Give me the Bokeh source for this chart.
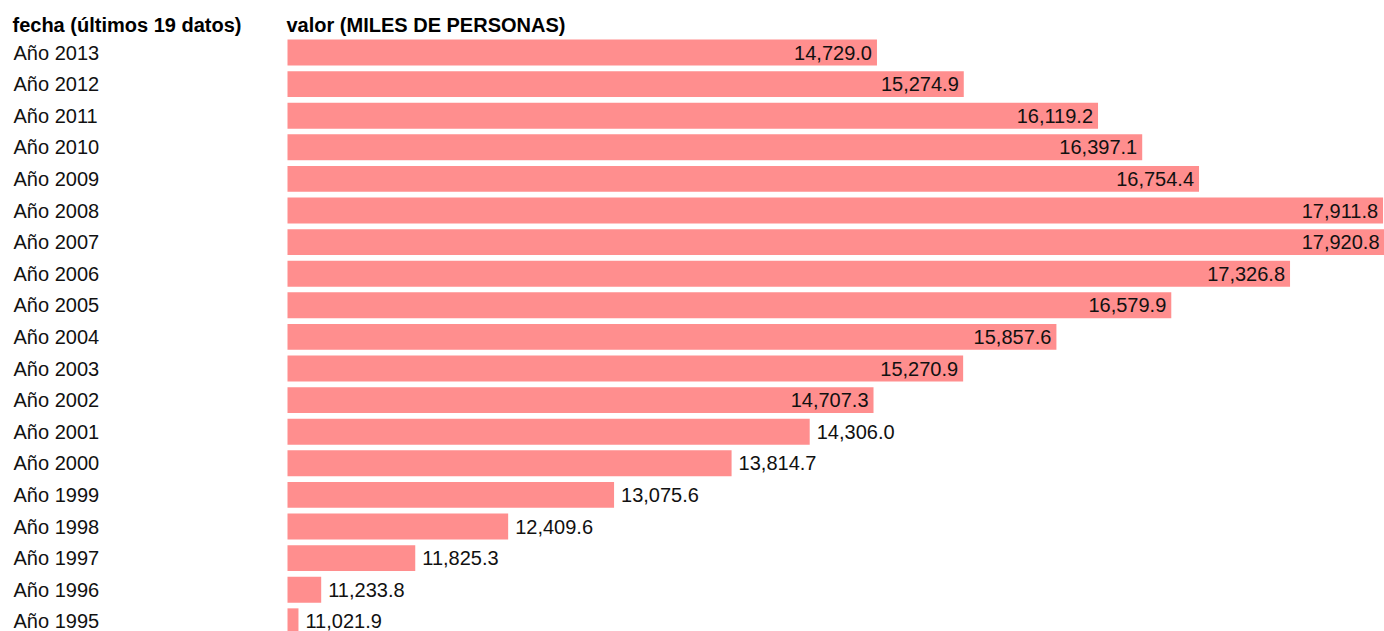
import numpy as np
from bokeh.plotting import figure
from bokeh.models import ColumnDataSource, Range1d
from bokeh.core.properties import value
from bokeh.embed import file_html
from bokeh.resources import INLINE

# ---- data ----
categories = ["Año 2013", "Año 2012", "Año 2011", "Año 2010", "Año 2009", "Año 2008",
              "Año 2007", "Año 2006", "Año 2005", "Año 2004", "Año 2003", "Año 2002",
              "Año 2001", "Año 2000", "Año 1999", "Año 1998", "Año 1997", "Año 1996",
              "Año 1995"]
values = [14729.0, 15274.9, 16119.2, 16397.1, 16754.4, 17911.8, 17920.8, 17326.8,
          16579.9, 15857.6, 15270.9, 14707.3, 14306.0, 13814.7, 13075.6, 12409.6,
          11825.3, 11233.8, 11021.9]
header_category = "fecha (últimos 19 datos)"
header_value = "valor (MILES DE PERSONAS)"

# ---- layout constants ----
W, H = 1384, 631
LEFT_PX = 287          # where the bars start
ROW_PX = 31.6          # row pitch
FIRST_ROW_PX = 52      # centre of first row
FONT = "Liberation Sans"
FS = "20px"
BAR_COLOR = "#ff8e8e"
TXT = "#111111"

vals = np.array(values)
vmin, vmax = vals.min(), vals.max()
span = vmax - vmin
frame_w = W - LEFT_PX
x_start = vmin - span * LEFT_PX / frame_w

rows = np.arange(len(categories))
right = np.maximum(vals, vmin + 0.01 * span)
inside = (vals - vmin) > span / 2

src = ColumnDataSource(dict(
    y=rows, cat=categories, v=vals, left=np.full(len(vals), vmin), right=right,
))
src_in = ColumnDataSource(dict(
    y=rows[inside], x=right[inside], lbl=[f"{v:,.1f}" for v in vals[inside]]))
src_out = ColumnDataSource(dict(
    y=rows[~inside], x=right[~inside], lbl=[f"{v:,.1f}" for v in vals[~inside]]))

y_bottom = (H - FIRST_ROW_PX) / ROW_PX
y_top = -FIRST_ROW_PX / ROW_PX

p = figure(width=W, height=H, output_backend="svg", toolbar_location=None,
           x_range=Range1d(x_start, vmax), y_range=Range1d(y_bottom, y_top),
           min_border=0, min_border_left=0, min_border_right=0,
           min_border_top=0, min_border_bottom=0)
p.axis.visible = False
p.grid.visible = False
p.outline_line_color = None
p.background_fill_color = "white"
p.border_fill_color = "white"

p.hbar(y="y", left="left", right="right", height=0.82, source=src,
       fill_color=BAR_COLOR, line_color=None)

# category labels
p.text(x=x_start, y="y", text="cat", source=src, x_offset=13, y_offset=0,
       text_align="left", text_baseline="alphabetic",
       text_font=value(FONT), text_font_size=FS, text_color=TXT)

# value labels inside / outside bars
p.text(x="x", y="y", text="lbl", source=src_in, x_offset=-5, y_offset=0,
       text_align="right", text_baseline="alphabetic",
       text_font=value(FONT), text_font_size=FS, text_color=TXT)
p.text(x="x", y="y", text="lbl", source=src_out, x_offset=7, y_offset=0,
       text_align="left", text_baseline="alphabetic",
       text_font=value(FONT), text_font_size=FS, text_color=TXT)

# headers
p.text(x=[x_start], y=[-1], text=[header_category], x_offset=12, y_offset=3.6,
       text_align="left", text_baseline="alphabetic", text_font=value(FONT),
       text_font_size=FS, text_font_style="bold", text_color="#000000")
p.text(x=[vmin], y=[-1], text=[header_value], x_offset=-1, y_offset=3.6,
       text_align="left", text_baseline="alphabetic", text_font=value(FONT),
       text_font_size=FS, text_font_style="bold", text_color="#000000")

open("out.html", "w").write(file_html(p, INLINE))
